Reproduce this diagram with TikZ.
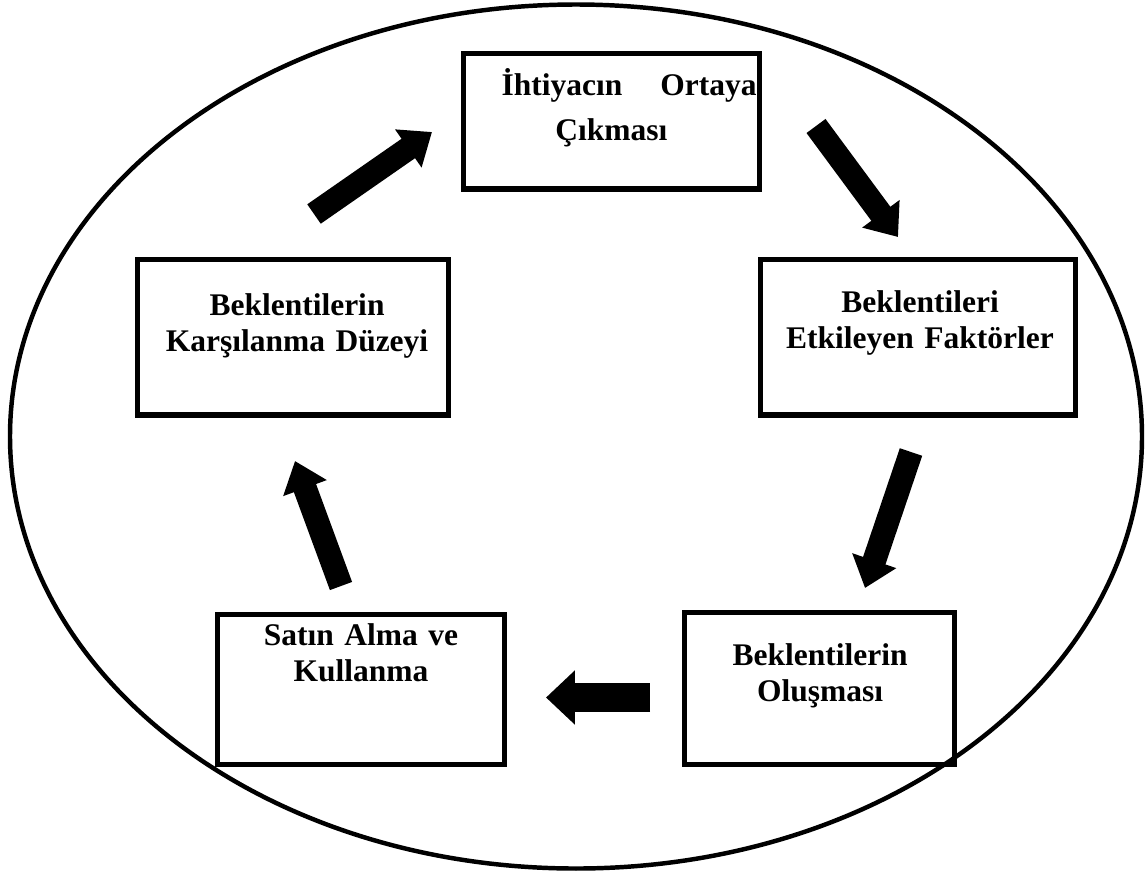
\documentclass[tikz,border=0pt]{standalone}
\usepackage{fontspec}
\setmainfont{Liberation Serif}
\usetikzlibrary{arrows.meta}
\tikzset{
    box/.style ={
        draw=black,
        line width=2pt
    },
    boxtext/.style ={
        font=\bfseries\fontsize{12pt}{13.8pt}\selectfont,
        text width=130pt,
        align=center,
        inner sep=0pt,
        anchor=base
    },
    blockarrow/.style ={
        line width=9pt,
        -{Triangle[length=11pt,width=17pt]}
    }
}

\begin{document}
\begin{tikzpicture}[x=0.381pt,y=-0.381pt]
    \useasboundingbox (0,0) rectangle (1148,875);
    \draw[line width=1.7pt] (576,436.5) ellipse [x radius=566, y radius=432];
    % boxes
    \draw[box] (463.5,53.5) rectangle (759.5,189);
    \draw[box] (137.5,259.5) rectangle (448.5,415);
    \draw[box] (760.5,259.5) rectangle (1075.5,415);
    \draw[box] (217.5,614.5) rectangle (504.5,764.5);
    \draw[box] (684.5,612.5) rectangle (954.5,764.5);
    % texts
    \node[boxtext, anchor=base west, text width=97.2pt, align=left] (ihtiyac) at (501,95)
        {İhtiyacın\hfill Ortaya\\[3.5pt]\hspace*{20.5pt}Çıkması};
    \node[boxtext] (karsilanma) at (297,315) {Beklentilerin\\Karşılanma Düzeyi};
    \node[boxtext] (faktor) at (920,312) {Beklentileri\\Etkileyen Faktörler};
    \node[boxtext] (olusma) at (820,665) {Beklentilerin\\Oluşması};
    \node[boxtext] (satin) at (361,645) {Satın Alma ve\\Kullanma};
    % arrows
    \coordinate (a1s) at (314,214);
    \coordinate (a1e) at (432,132);
    \coordinate (a2s) at (816,126);
    \coordinate (a2e) at (898,237);
    \coordinate (a3s) at (911,452);
    \coordinate (a3e) at (865,588);
    \coordinate (a4s) at (650,697.5);
    \coordinate (a4e) at (546,697.5);
    \coordinate (a5s) at (341,586);
    \coordinate (a5e) at (295,461);
    \draw[blockarrow] (a1s) -- (a1e);
    \draw[blockarrow] (a2s) -- (a2e);
    \draw[blockarrow] (a3s) -- (a3e);
    \draw[blockarrow, line width=11pt, -{Triangle[length=11pt,width=20pt]}] (a4s) -- (a4e);
    \draw[blockarrow] (a5s) -- (a5e);
\end{tikzpicture}
\end{document}
